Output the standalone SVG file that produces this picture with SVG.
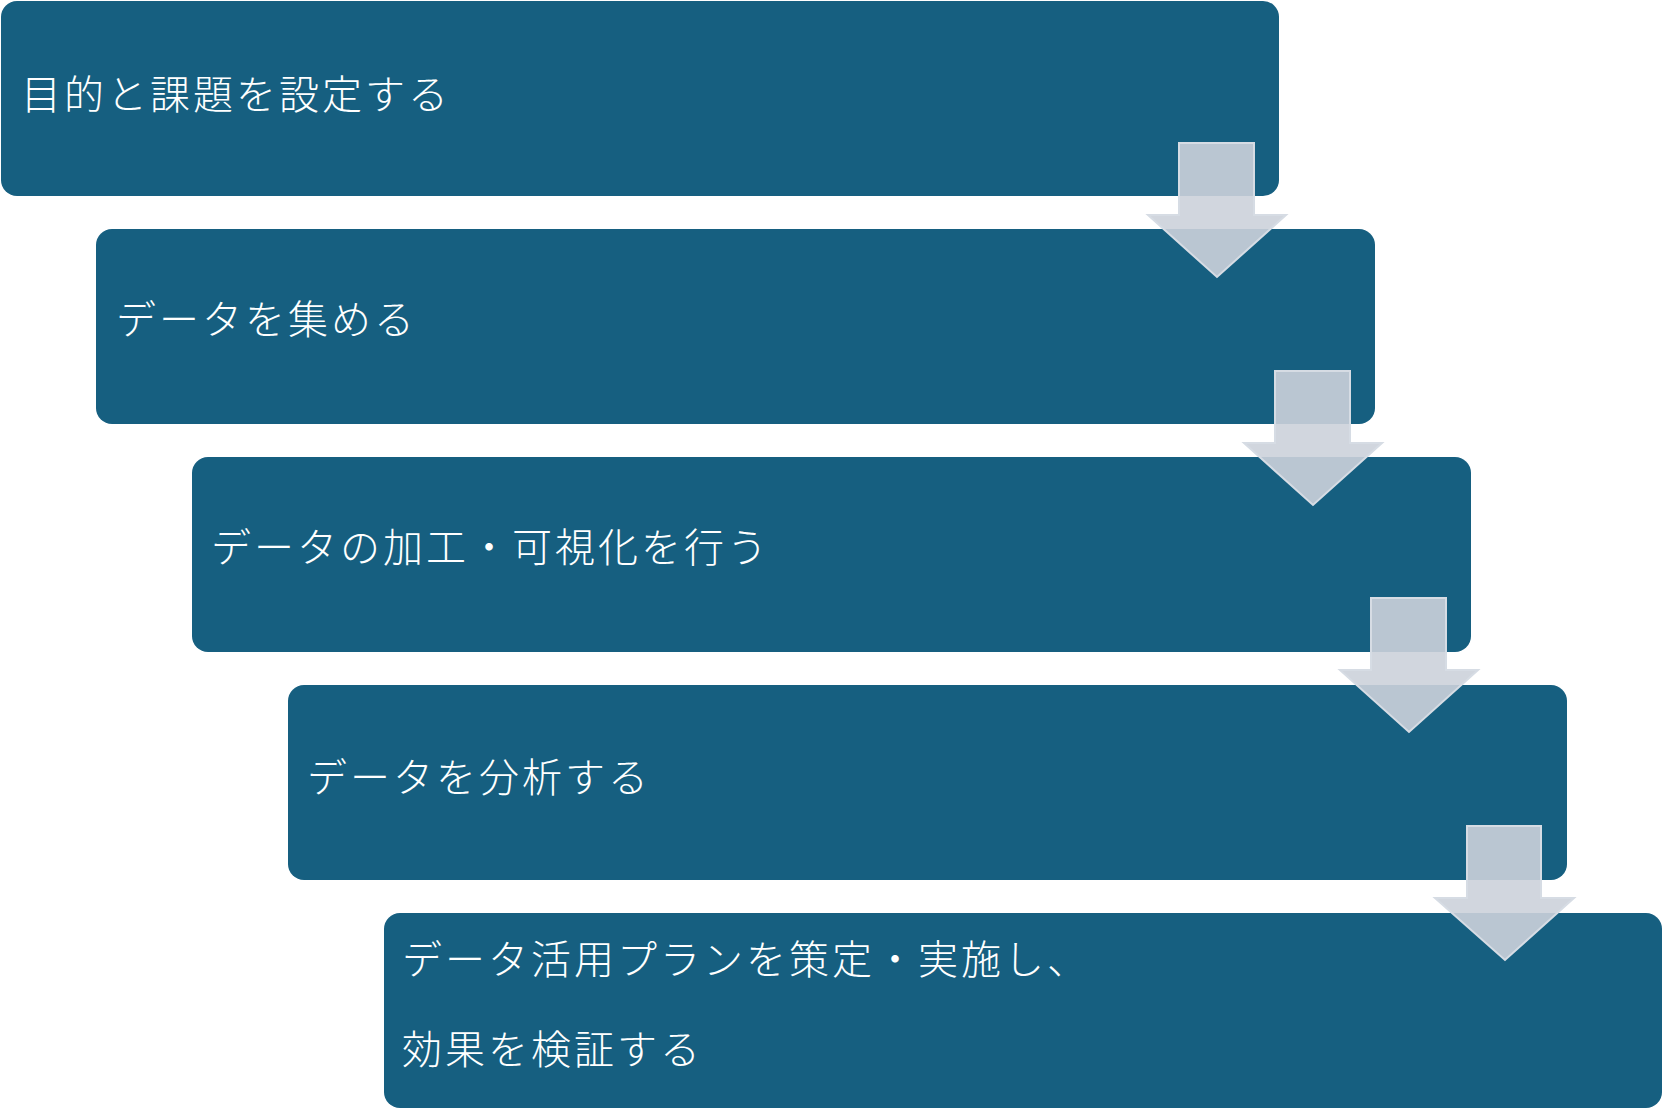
<svg xmlns="http://www.w3.org/2000/svg" width="1663" height="1109" viewBox="0 0 1663 1109">
<style>
.box{fill:#165f80}
.t{fill:#fff;font-family:"Noto Sans CJK JP","Noto Sans",sans-serif;font-size:40px;font-weight:300;letter-spacing:3px}
.arr{fill:#ccd2da;fill-opacity:0.9;stroke:#d6dce4;stroke-width:2}
</style>
<rect width="1663" height="1109" fill="#fff"/>
<g id="step1"><rect class="box" x="1" y="1" width="1278" height="195" rx="16"/><text class="t" x="21" y="109">目的と課題を設定する</text></g>
<g id="step2"><rect class="box" x="96" y="229" width="1279" height="195" rx="16"/><text class="t" x="116" y="334">データを集める</text></g>
<g id="step3"><rect class="box" x="192" y="457" width="1279" height="195" rx="16"/><text class="t" x="211" y="562">データの加工・可視化を行う</text></g>
<g id="step4"><rect class="box" x="288" y="685" width="1279" height="195" rx="16"/><text class="t" x="307" y="792">データを分析する</text></g>
<g id="step5"><rect class="box" x="384" y="913" width="1278" height="195" rx="16"/><text class="t" x="402" y="974">データ活用プランを策定・実施し、</text><text class="t" x="402" y="1064">効果を検証する</text></g>
<g id="connectors">
<path class="arr" d="M1179,143 H1254 V215 H1286 L1217,277 L1148,215 H1179 Z"/>
<path class="arr" d="M1275,371 H1350 V443 H1382 L1313,505 L1244,443 H1275 Z"/>
<path class="arr" d="M1371,598 H1446 V670 H1478 L1409,732 L1340,670 H1371 Z"/>
<path class="arr" d="M1467,826 H1541 V898 H1574 L1505,960 L1435,898 H1467 Z"/>
</g>
</svg>
